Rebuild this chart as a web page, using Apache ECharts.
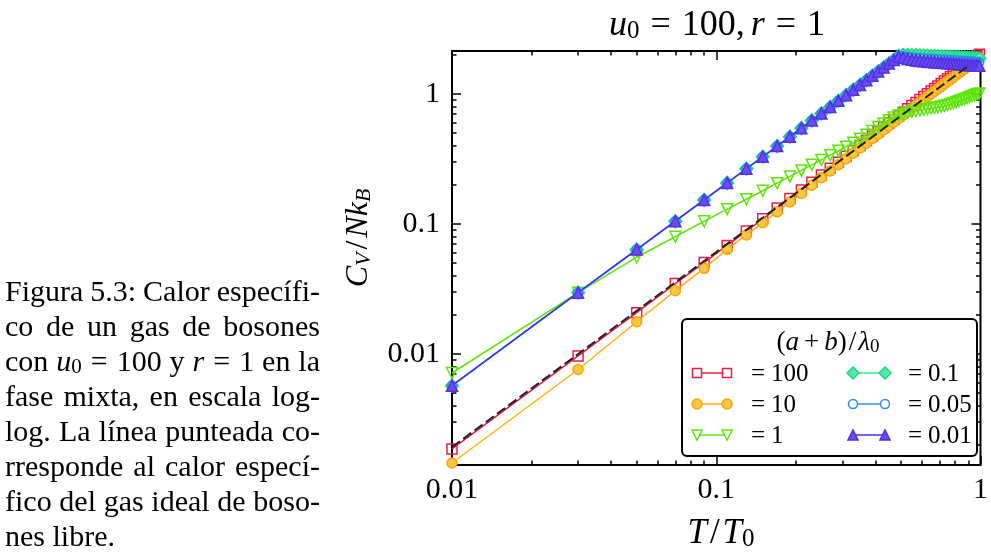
<!DOCTYPE html>
<html>
<head>
<meta charset="utf-8">
<script src="https://cdn.jsdelivr.net/npm/echarts@6/dist/echarts.min.js"></script>
<style>
  html, body { margin: 0; padding: 0; background: #fff; }
  #chart { width: 991px; height: 559px; }
</style>
</head>
<body>
<div id="chart"></div>
<script>
// Reduced temperature T/T0 sampled every 0.02
const T = [0.01, 0.03, 0.05, 0.07, 0.09, 0.11, 0.13, 0.15, 0.17, 0.19,
           0.21, 0.23, 0.25, 0.27, 0.29, 0.31, 0.33, 0.35, 0.37, 0.39,
           0.41, 0.43, 0.45, 0.47, 0.49, 0.51, 0.53, 0.55, 0.57, 0.59,
           0.61, 0.63, 0.65, 0.67, 0.69, 0.71, 0.73, 0.75, 0.77, 0.79,
           0.81, 0.83, 0.85, 0.87, 0.89, 0.91, 0.93, 0.95, 0.97, 0.99];

// C_V / N k_B for each value of (a+b)/lambda0
const cv100 = [0.00186, 0.00966, 0.0208, 0.0348, 0.0505, 0.0684, 0.0882, 0.1096, 0.1325, 0.1569,
               0.1826, 0.2098, 0.2382, 0.2679, 0.2989, 0.332, 0.367, 0.402, 0.438, 0.475,
               0.514, 0.554, 0.595, 0.636, 0.679, 0.724, 0.769, 0.814, 0.861, 0.907,
               0.955, 1.003, 1.052, 1.102, 1.153, 1.205, 1.257, 1.310, 1.364, 1.419,
               1.475, 1.531, 1.589, 1.648, 1.708, 1.770, 1.832, 1.895, 1.957, 2.019];

const cv10 = [0.00145, 0.0076, 0.0177, 0.0307, 0.0456, 0.0638, 0.0823, 0.1021, 0.124, 0.1475,
              0.1718, 0.1985, 0.2265, 0.2555, 0.286, 0.318, 0.3505, 0.384, 0.4185, 0.454,
              0.4905, 0.5285, 0.567, 0.6065, 0.647, 0.6885, 0.731, 0.7745, 0.8185, 0.8635,
              0.9095, 0.956, 1.003, 1.051, 1.099, 1.148, 1.198, 1.249, 1.300, 1.352,
              1.404, 1.457, 1.511, 1.565, 1.620, 1.676, 1.732, 1.789, 1.846, 1.904];

const cv1 = [0.00714, 0.0296, 0.0555, 0.0798, 0.105, 0.130, 0.155, 0.180, 0.206, 0.232,
             0.258, 0.285, 0.311, 0.338, 0.365, 0.393, 0.421, 0.452, 0.485, 0.519,
             0.556, 0.593, 0.628, 0.658, 0.683, 0.703, 0.719, 0.731, 0.741, 0.750,
             0.758, 0.766, 0.774, 0.782, 0.791, 0.801, 0.812, 0.824, 0.837, 0.851,
             0.866, 0.882, 0.898, 0.915, 0.932, 0.949, 0.965, 0.980, 0.994, 1.006];

const cv01 = [0.0057, 0.0296, 0.0636, 0.105, 0.153, 0.207, 0.266, 0.329, 0.397, 0.469,
              0.546, 0.626, 0.709, 0.795, 0.886, 0.979, 1.075, 1.174, 1.276, 1.381,
              1.488, 1.599, 1.712, 1.827, 1.960, 1.990, 1.990, 1.985, 1.980, 1.975,
              1.970, 1.965, 1.960, 1.955, 1.950, 1.945, 1.940, 1.935, 1.930, 1.925,
              1.920, 1.915, 1.910, 1.905, 1.900, 1.895, 1.890, 1.885, 1.880, 1.875];

const cv005 = [0.0057, 0.0296, 0.0636, 0.105, 0.153, 0.207, 0.266, 0.329, 0.397, 0.469,
               0.546, 0.626, 0.709, 0.795, 0.886, 0.979, 1.075, 1.174, 1.276, 1.381,
               1.488, 1.599, 1.712, 1.827, 1.950, 1.950, 1.930, 1.915, 1.903, 1.893,
               1.884, 1.875, 1.867, 1.859, 1.851, 1.844, 1.837, 1.830, 1.823, 1.816,
               1.810, 1.804, 1.798, 1.792, 1.786, 1.780, 1.775, 1.770, 1.765, 1.760];

const cv001 = [0.0057, 0.0296, 0.0636, 0.105, 0.153, 0.207, 0.266, 0.329, 0.397, 0.469,
               0.546, 0.626, 0.709, 0.795, 0.886, 0.979, 1.075, 1.174, 1.276, 1.381,
               1.488, 1.599, 1.712, 1.827, 1.940, 1.900, 1.860, 1.830, 1.810, 1.795,
               1.783, 1.772, 1.762, 1.753, 1.744, 1.736, 1.728, 1.720, 1.712, 1.705,
               1.698, 1.691, 1.684, 1.678, 1.672, 1.666, 1.661, 1.656, 1.651, 1.646];

// Free ideal Bose gas (dashed reference line), end points
const idealT = [0.01, 0.91];
const idealCv = [0.00192, 1.67];

// Axis ranges and tick labels
const xRange = [0.01, 1];
const yRange = [0.0014, 2.14];
const xTickValues = [0.01, 0.1, 1];
const xTickLabels = ['0.01', '0.1', '1'];
const yTickValues = [0.01, 0.1, 1];
const yTickLabels = ['0.01', '0.1', '1'];
const minorMultipliers = [2, 3, 4, 5, 6, 7, 8, 9];

const legendLabels = ['100', '10', '1', '0.1', '0.05', '0.01'];

const captionLines = [
  ['Figura', '5.3:', 'Calor', 'específi-'],
  ['co', 'de', 'un', 'gas', 'de', 'bosones'],
  ['con', '{i|u}{s|0}{e|=}100', 'y', '{i|r}{e|=}1', 'en', 'la'],
  ['fase', 'mixta,', 'en', 'escala', 'log-'],
  ['log.', 'La', 'línea', 'punteada', 'co-'],
  ['rresponde', 'al', 'calor', 'especí-'],
  ['fico', 'del', 'gas', 'ideal', 'de', 'boso-'],
  ['nes', 'libre.']
];

// ---------------------------------------------------------------
const SERIF = "'Liberation Serif', 'DejaVu Serif', serif";
const lg = Math.log10;

const styles = [
  { values: cv100, symbol: 'rect', size: 10, rotate: 0, fill: 'rgba(0,0,0,0)', edge: '#ee1d48', line: '#ee1d48', kind: 'square', lsize: 9 },
  { values: cv10, symbol: 'circle', size: 10, rotate: 0, fill: '#fbc44a', edge: '#f8a800', line: '#ffb20f', kind: 'circle', lsize: 10 },
  { values: cv1, symbol: 'triangle', size: 11, rotate: 180, fill: 'rgba(0,0,0,0)', edge: '#5fe60e', line: '#5fe60e', kind: 'tdown', lsize: 10 },
  { values: cv01, symbol: 'diamond', size: 13, rotate: 0, fill: '#55eaa6', edge: '#22d684', line: '#3ee396', kind: 'diamond', lsize: 12 },
  { values: cv005, symbol: 'circle', size: 9, rotate: 0, fill: 'rgba(0,0,0,0)', edge: '#2d8ef0', line: '#2d8ef0', kind: 'circle', lsize: 9 },
  { values: cv001, symbol: 'triangle', size: 11, rotate: 0, fill: '#6a4cf0', edge: '#5330e4', line: '#3f33ea', kind: 'tup', lsize: 10 }
];

const series = styles.map((s, k) => ({
  type: 'line',
  name: legendLabels[k],
  data: T.map((t, i) => [lg(t), lg(s.values[i])]),
  symbol: s.symbol,
  symbolSize: s.size,
  symbolRotate: s.rotate,
  showAllSymbol: true,
  clip: true,
  z: 2 + k,
  lineStyle: { color: s.line, width: 1.5 },
  itemStyle: { color: s.fill, borderColor: s.edge, borderWidth: 1.5 },
  emphasis: { disabled: true }
}));

series.push({
  type: 'line',
  name: 'ideal',
  data: idealT.map((t, i) => [lg(t), lg(idealCv[i])]),
  symbol: 'none',
  z: 20,
  lineStyle: { color: '#222', width: 2, type: [10, 4] },
  emphasis: { disabled: true }
});

function minorValues(range) {
  const out = [];
  for (let e = Math.floor(lg(range[0])); e <= Math.ceil(lg(range[1])); e++) {
    minorMultipliers.forEach(m => {
      const v = m * Math.pow(10, e);
      if (v > range[0] && v < range[1]) out.push(v);
    });
  }
  return out;
}

function makeAxis(range, position, values, len, labels, margin) {
  const logs = values.map(lg);
  const ax = {
    type: 'value',
    position: position,
    min: lg(range[0]),
    max: lg(range[1]),
    axisLine: { show: false, onZero: false },
    splitLine: { show: false },
    axisTick: { show: true, inside: true, length: len, customValues: logs,
                lineStyle: { color: '#000', width: 1.5 } },
    axisLabel: { show: false }
  };
  if (labels) {
    ax.axisLabel = {
      show: true, customValues: logs, margin: margin,
      fontFamily: SERIF, fontSize: 30, color: '#000',
      formatter: v => {
        const idx = logs.findIndex(l => Math.abs(l - v) < 1e-6);
        return idx >= 0 ? labels[idx] : '';
      }
    };
  }
  return ax;
}

const xMinor = minorValues(xRange);
const yMinor = minorValues(yRange);

const xAxes = [
  makeAxis(xRange, 'bottom', xTickValues, 9, xTickLabels, 10),
  makeAxis(xRange, 'bottom', xMinor, 4.5, null),
  makeAxis(xRange, 'top', xTickValues, 9, null),
  makeAxis(xRange, 'top', xMinor, 4.5, null)
];
const yAxes = [
  makeAxis(yRange, 'left', yTickValues, 9, yTickLabels, 12),
  makeAxis(yRange, 'left', yMinor, 4.5, null),
  makeAxis(yRange, 'right', yTickValues, 9, null),
  makeAxis(yRange, 'right', yMinor, 4.5, null)
];

// ---------- text helpers ----------
const mctx = document.createElement('canvas').getContext('2d');
function textWidth(str, size, italic) {
  mctx.font = (italic ? 'italic ' : '') + size + 'px ' + SERIF;
  return mctx.measureText(str).width;
}
const PAD = { e: 0.3, p: 0.2 };
function richStyles(f) {
  const sub = Math.round(f * 0.7), subLH = Math.round(f * 0.4);
  return {
    i: { fontSize: f, fontFamily: SERIF, fontStyle: 'italic', lineHeight: f },
    s: { fontSize: sub, fontFamily: SERIF, lineHeight: subLH, verticalAlign: 'bottom' },
    t: { fontSize: sub, fontFamily: SERIF, fontStyle: 'italic', lineHeight: subLH, verticalAlign: 'bottom' },
    e: { fontSize: f, fontFamily: SERIF, lineHeight: f, padding: [0, Math.round(f * PAD.e), 0, Math.round(f * PAD.e)] },
    p: { fontSize: f, fontFamily: SERIF, lineHeight: f, padding: [0, Math.round(f * PAD.p), 0, Math.round(f * PAD.p)] },
    q: { fontSize: f, fontFamily: SERIF, lineHeight: f, padding: [0, Math.round(f * 0.25), 0, 0] },
    l: { fontSize: f, fontFamily: SERIF, lineHeight: f, padding: [0, Math.round(f * 0.08), 0, Math.round(f * 0.08)] },
    c: { fontSize: f, fontFamily: SERIF, lineHeight: f, padding: [0, Math.round(f * 0.17), 0, 0] }
  };
}
function richWidth(str, f) {
  const re = /\{(\w)\|([^}]*)\}|([^{]+)/g;
  let m, w = 0;
  while ((m = re.exec(str))) {
    if (m[3]) { w += textWidth(m[3], f, false); continue; }
    const st = m[1], tx = m[2];
    if (st === 'i') w += textWidth(tx, f, true);
    else if (st === 's') w += textWidth(tx, Math.round(f * 0.7), false);
    else if (st === 't') w += textWidth(tx, Math.round(f * 0.7), true);
    else if (st === 'e') w += textWidth(tx, f, false) + 2 * Math.round(f * PAD.e);
    else if (st === 'p') w += textWidth(tx, f, false) + 2 * Math.round(f * PAD.p);
    else w += textWidth(tx, f, false);
  }
  return w;
}
function textEl(str, x, y, f, align, extra) {
  return Object.assign({
    type: 'text', x: x, y: y, silent: true,
    style: {
      text: str, fill: '#000', fontSize: f, fontFamily: SERIF, lineHeight: f,
      align: align, verticalAlign: 'middle', rich: richStyles(f)
    }
  }, extra || {});
}
// y of the em-middle for a given baseline
function mid(baseline, f) { return baseline - 0.3375 * f; }

const graphics = [];

// Caption block, justified
const capF = 30, capLeft = 5, capRight = 320, capBase0 = 303, capStep = 35;
captionLines.forEach((words, li) => {
  const widths = words.map(w => richWidth(w, capF));
  const total = widths.reduce((a, b) => a + b, 0);
  const last = li === captionLines.length - 1;
  const gap = last ? textWidth(' ', capF, false) : (capRight - capLeft - total) / (words.length - 1);
  let x = capLeft;
  const y = mid(capBase0 + li * capStep, capF);
  words.forEach((w, k) => {
    graphics.push(textEl(w, x, y, capF, 'left'));
    x += widths[k] + gap;
  });
});

// Title
graphics.push(textEl('{i|u}{s|0}{e|=}100{c|,}{i|r}{e|=}1', 717, mid(38, 36), 36, 'center'));
// Axis names
graphics.push(textEl('{i|T}{l|/}{i|T}{s|0}', 721, mid(546, 35), 35, 'center'));
graphics.push(textEl('{i|C}{t|V}{l|/}{i|Nk}{t|B}', 359, 238, 32, 'center', { rotation: Math.PI / 2 }));

// Legend box
const box = { x: 682, y: 319, w: 295, h: 137 };
graphics.push({
  type: 'rect', silent: true, z: 50,
  shape: { x: box.x, y: box.y, width: box.w, height: box.h, r: 5 },
  style: { fill: '#fff', stroke: '#000', lineWidth: 2 }
});
graphics.push(Object.assign(textEl('({i|a}{p|+}{i|b}){l|/}{i|λ}{s|0}', 828, mid(352, 27), 27, 'center'), { z: 51 }));

function markerShape(kind, cx, cy, s, style) {
  const h = s / 2;
  const base = { silent: true, z: 52, style: style };
  if (kind === 'square') return Object.assign({ type: 'rect', shape: { x: cx - h, y: cy - h, width: s, height: s } }, base);
  if (kind === 'circle') return Object.assign({ type: 'circle', shape: { cx: cx, cy: cy, r: h } }, base);
  let pts;
  if (kind === 'tdown') pts = [[cx - h, cy - h], [cx + h, cy - h], [cx, cy + h]];
  else if (kind === 'tup') pts = [[cx - h, cy + h], [cx + h, cy + h], [cx, cy - h]];
  else pts = [[cx, cy - h], [cx + h, cy], [cx, cy + h], [cx - h, cy]];
  return Object.assign({ type: 'polygon', shape: { points: pts } }, base);
}

const rowsY = [373, 404, 435];
const cols = [{ x0: 697, x1: 727, tx: 751 }, { x0: 853, x1: 885, tx: 908 }];
styles.forEach((s, k) => {
  const c = cols[Math.floor(k / 3)], y = rowsY[k % 3];
  graphics.push({ type: 'line', silent: true, z: 51,
    shape: { x1: c.x0, y1: y, x2: c.x1, y2: y },
    style: { stroke: s.line, lineWidth: 1.5 } });
  const st = { fill: s.fill === 'rgba(0,0,0,0)' ? '#fff' : s.fill, stroke: s.edge, lineWidth: 1.5 };
  graphics.push(markerShape(s.kind, c.x0, y, s.lsize, st));
  graphics.push(markerShape(s.kind, c.x1, y, s.lsize, st));
  graphics.push(Object.assign(textEl('{q|=}' + legendLabels[k], c.tx, y + 1, 25, 'left'), { z: 53 }));
});

const chart = echarts.init(document.getElementById('chart'), null, { renderer: 'canvas' });
chart.setOption({
  animation: false,
  backgroundColor: '#fff',
  grid: {
    left: 452, top: 51, right: 3.5, bottom: 94,
    show: true, borderColor: '#000', borderWidth: 2, backgroundColor: 'rgba(0,0,0,0)'
  },
  xAxis: xAxes,
  yAxis: yAxes,
  series: series,
  graphic: graphics
});
</script>
</body>
</html>
